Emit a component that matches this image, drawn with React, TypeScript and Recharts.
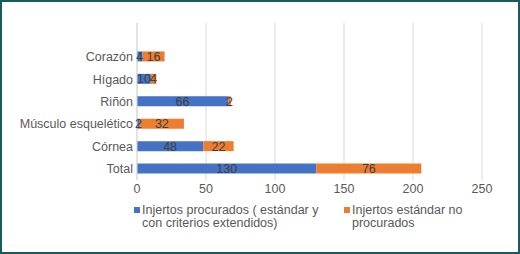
import React from "react";
import { BarChart, Bar, XAxis, YAxis, CartesianGrid, LabelList } from "recharts";

const categories = ["", "Corazón", "Hígado", "Riñón", "Músculo esquelético", "Córnea", "Total"];
const procurados = [null, 4, 10, 66, 2, 48, 130];
const noProcurados = [null, 16, 4, 2, 32, 22, 76];
const xTicks = [0, 50, 100, 150, 200, 250];
const seriesNames = [
  ["Injertos procurados ( estándar y", "con criterios extendidos)"],
  ["Injertos estándar no", "procurados"],
];
const seriesColors = ["#4472C4", "#ED7D31"];

const data = categories.map((name, i) => ({
  name,
  procurados: procurados[i],
  noProcurados: noProcurados[i],
}));

const FONT = '"Liberation Sans", Arial, sans-serif';
const FS = 12.5;

const fmt = (v: any) => (v === null || v === undefined ? "" : v);

export default function App() {
  return (
    <div style={{ position: "absolute", left: 0, top: 0, width: 520, height: 254, background: "#fff", fontFamily: FONT }}>
      <BarChart
        width={520}
        height={254}
        data={data}
        layout="vertical"
        margin={{ top: 23, right: 38, left: 0, bottom: 54 }}
        barSize={10}
      >
        <CartesianGrid horizontal={false} vertical={true} stroke="#D9D9D9" />
        <XAxis
          type="number"
          domain={[0, 250]}
          ticks={xTicks}
          axisLine={false}
          tickLine={false}
          tickSize={0}
          tickMargin={4}
          height={20}
          tick={{ fill: "#595959", fontSize: FS, fontFamily: FONT }}
        />
        <YAxis
          type="category"
          dataKey="name"
          width={137}
          axisLine={{ stroke: "#D9D9D9" }}
          tickLine={false}
          tickSize={0}
          tickMargin={4}
          interval={0}
          tick={{ fill: "#595959", fontSize: FS, fontFamily: FONT }}
        />
        <Bar dataKey="procurados" stackId="a" fill={seriesColors[0]} isAnimationActive={false}>
          <LabelList dataKey="procurados" position="center" formatter={fmt} fill="#404040" fontSize={FS} fontFamily={FONT} />
        </Bar>
        <Bar dataKey="noProcurados" stackId="a" fill={seriesColors[1]} isAnimationActive={false}>
          <LabelList dataKey="noProcurados" position="center" formatter={fmt} fill="#404040" fontSize={FS} fontFamily={FONT} />
        </Bar>
      </BarChart>
      {seriesNames.map((lines, i) => (
        <div
          key={i}
          style={{
            position: "absolute",
            left: i === 0 ? 134 : 344,
            top: 203.5,
            display: "flex",
            alignItems: "flex-start",
            fontSize: FS,
            lineHeight: "13px",
            color: "#595959",
            fontFamily: FONT,
          }}
        >
          <div style={{ width: 6, height: 6, background: seriesColors[i], marginTop: 3.5, marginRight: 2 }} />
          <div>
            {lines.map((l, j) => (
              <div key={j} style={{ whiteSpace: "nowrap" }}>{l}</div>
            ))}
          </div>
        </div>
      ))}
      <div
        style={{
          position: "absolute",
          left: 0,
          top: 0,
          width: 520,
          height: 254,
          boxSizing: "border-box",
          border: "2px solid #1A5C5E",
          pointerEvents: "none",
        }}
      />
    </div>
  );
}
